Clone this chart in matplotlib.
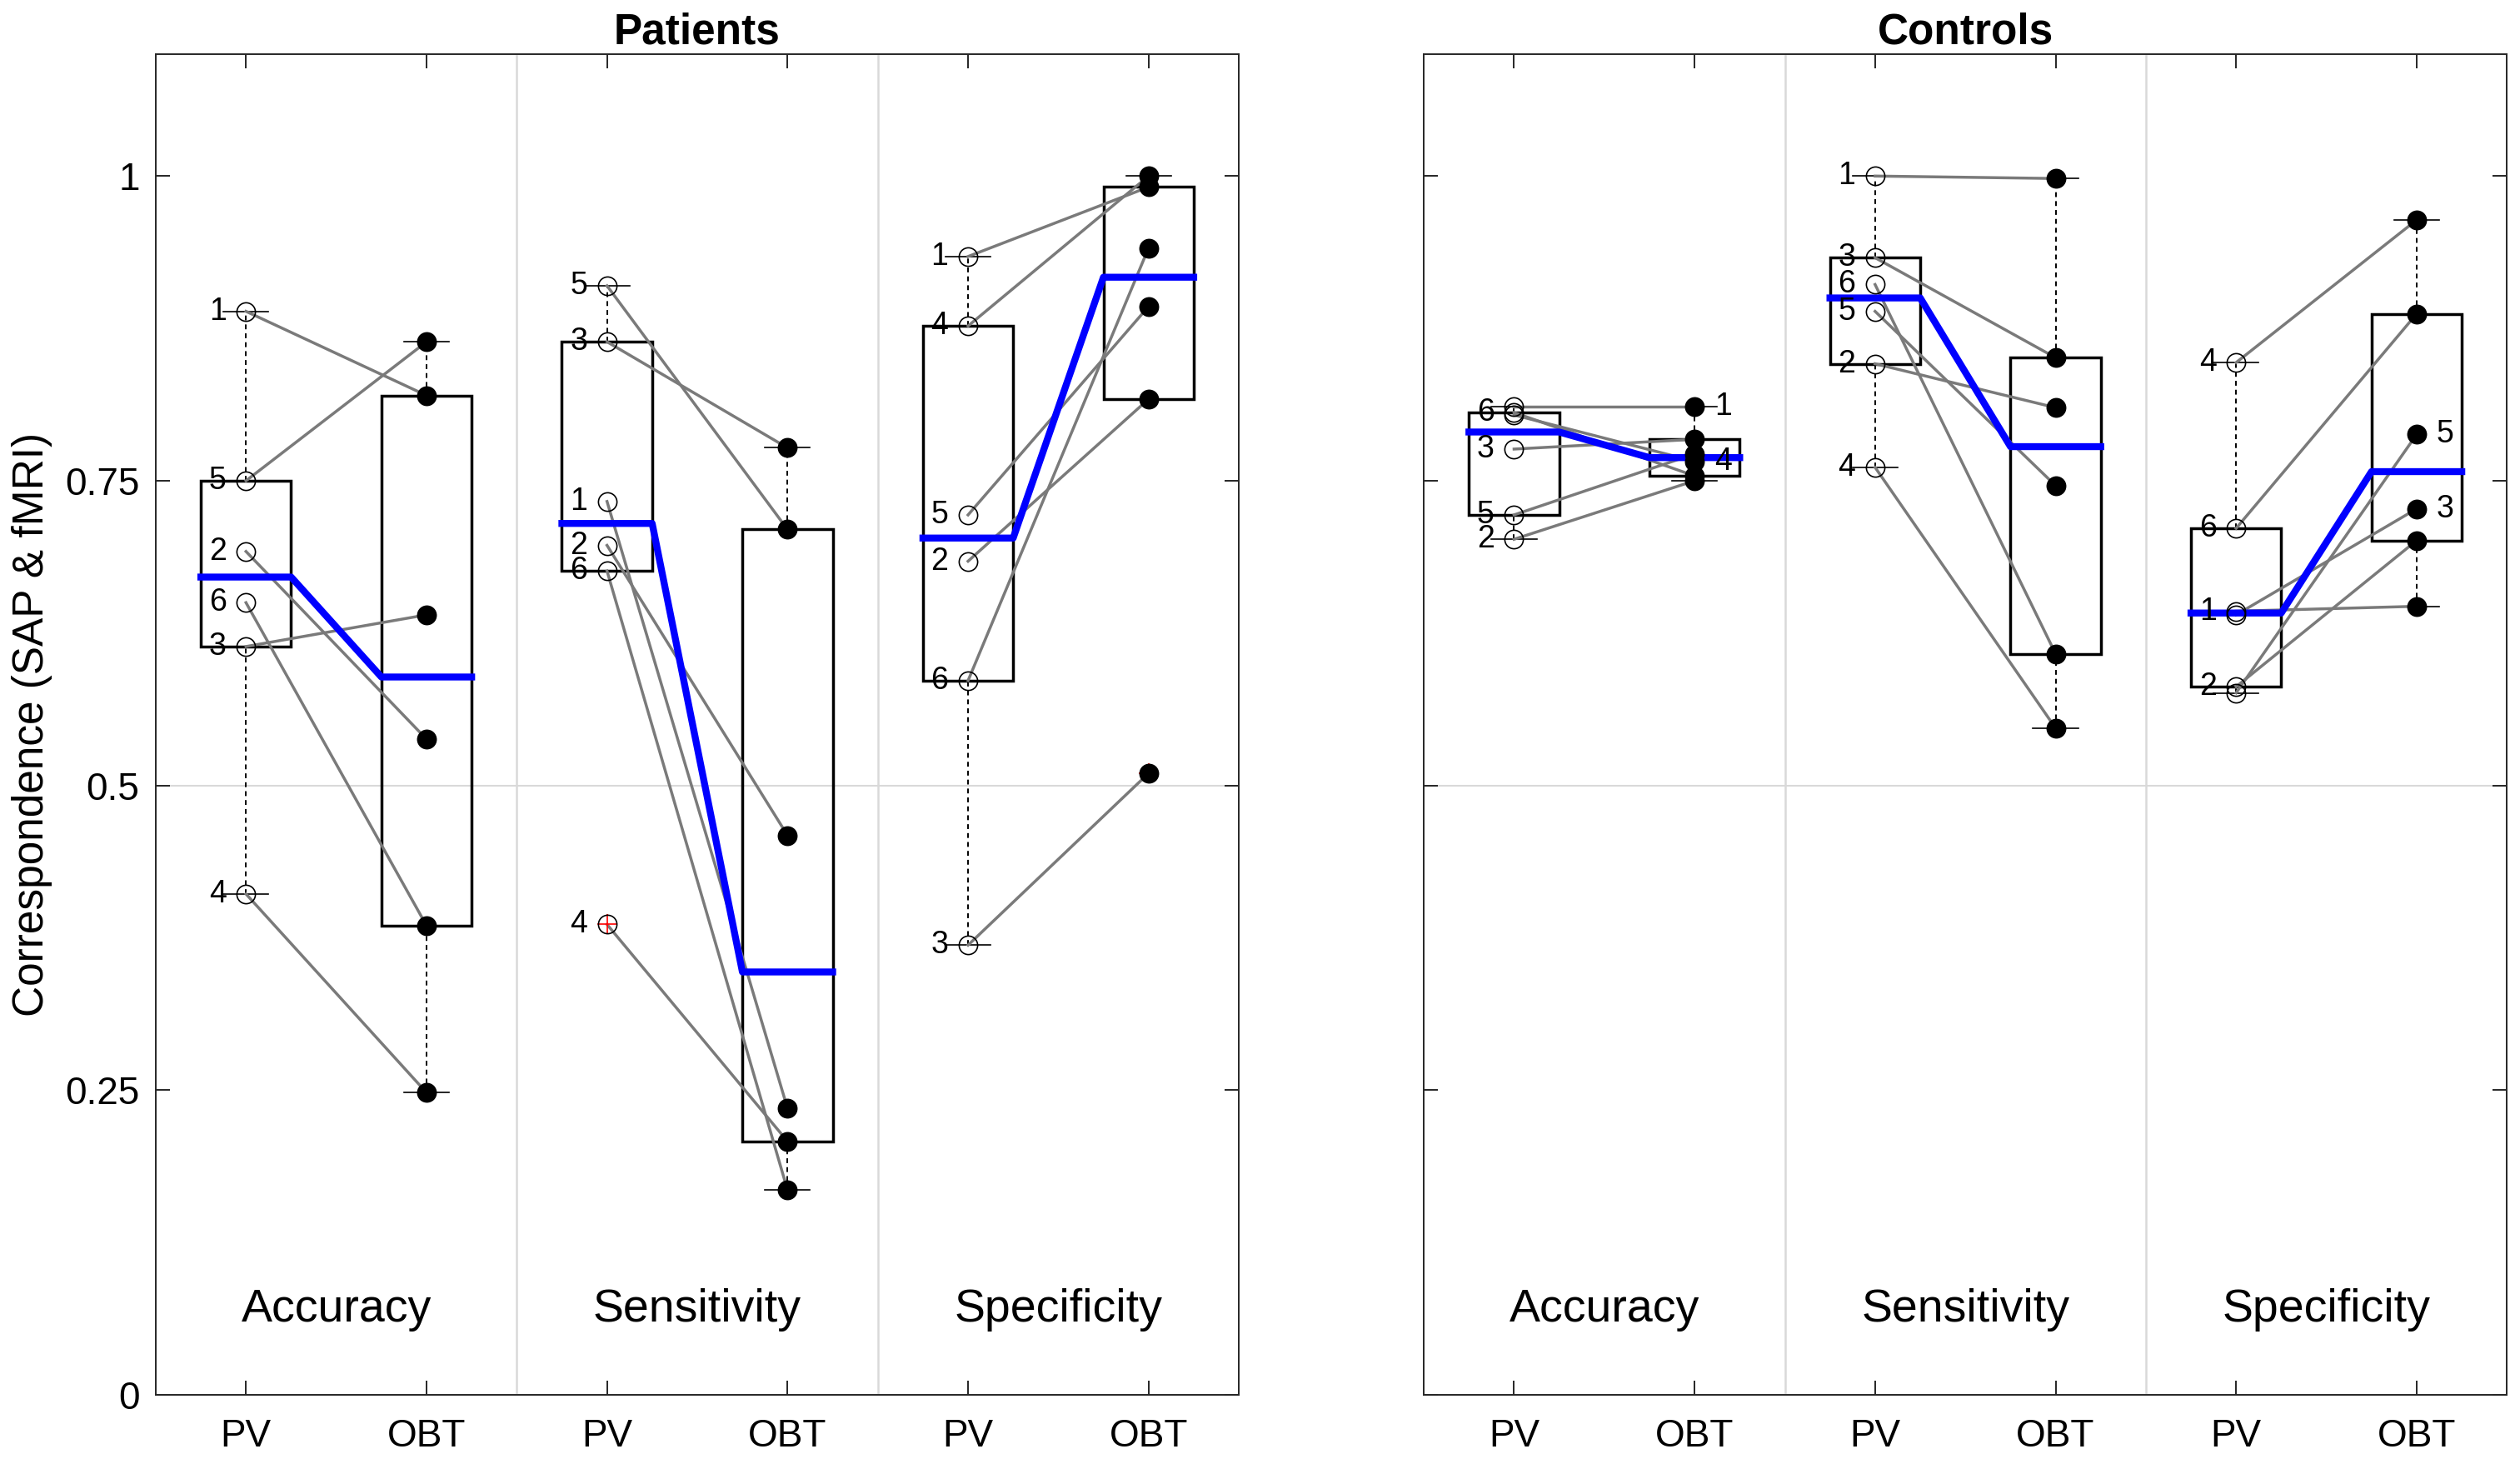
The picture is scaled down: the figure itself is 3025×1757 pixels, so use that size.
import numpy as np
import matplotlib.pyplot as plt
from matplotlib.patches import Rectangle

plt.rcParams['font.family'] = ['Liberation Sans', 'DejaVu Sans']

subjects = [1, 2, 3, 4, 5, 6]
metrics = ['Accuracy', 'Sensitivity', 'Specificity']
conditions = ['PV', 'OBT']

# values per subject 1..6
pat_acc_pv = [0.889, 0.692, 0.614, 0.411, 0.750, 0.650]
pat_acc_obt = [0.820, 0.538, 0.640, 0.248, 0.864, 0.385]
pat_sen_pv = [0.733, 0.697, 0.864, 0.386, 0.910, 0.676]
pat_sen_obt = [0.235, 0.459, 0.777, 0.208, 0.710, 0.168]
pat_spe_pv = [0.934, 0.684, 0.369, 0.877, 0.722, 0.586]
pat_spe_obt = [0.991, 0.817, 0.510, 1.000, 0.893, 0.941]

ctl_acc_pv = [0.811, 0.702, 0.776, 0.804, 0.722, 0.806]
ctl_acc_obt = [0.811, 0.750, 0.784, 0.766, 0.772, 0.754]
ctl_sen_pv = [1.000, 0.846, 0.933, 0.761, 0.889, 0.911]
ctl_sen_obt = [0.998, 0.810, 0.851, 0.547, 0.746, 0.608]
ctl_spe_pv = [0.643, 0.581, 0.640, 0.847, 0.576, 0.711]
ctl_spe_obt = [0.647, 0.701, 0.727, 0.964, 0.788, 0.887]

# subjects whose number is written next to the OBT point instead of the PV point
pat_obt_labels = [[], [], []]
ctl_obt_labels = [[1, 4], [], [3, 5]]

yticks = [0, 0.25, 0.5, 0.75, 1]
ytick_labels = ['0', '0.25', '0.5', '0.75', '1']

dark = '#262626'
gray = (0.48, 0.48, 0.48)
light = (0.85, 0.85, 0.85)


def box_stats(v):
    v = np.asarray(v, dtype=float)
    q1, med, q3 = np.percentile(v, [25, 50, 75], method='hazen')
    iqr = q3 - q1
    ok = (v >= q1 - 1.5 * iqr) & (v <= q3 + 1.5 * iqr)
    return q1, med, q3, v[ok].min(), v[ok].max(), v[~ok]


def draw_panel(ax, pv_sets, obt_sets, obt_labels, title, show_ylabels):
    ax.axhline(0.5, color=light, lw=1.5, zorder=0)
    ax.axvline(2.5, color=light, lw=1.8, zorder=0)
    ax.axvline(4.5, color=light, lw=1.8, zorder=0)

    for m in range(3):
        xs = [2 * m + 1, 2 * m + 2]
        sets = [pv_sets[m], obt_sets[m]]
        meds = []
        for x, vals in zip(xs, sets):
            q1, med, q3, lo, hi, out = box_stats(vals)
            ax.add_patch(Rectangle((x - 0.25, q1), 0.5, q3 - q1, fill=False,
                                   ec='k', lw=2.5, zorder=2))
            ax.plot([x, x], [q3, hi], color='k', lw=1.4, ls=(0, (3, 2.5)), zorder=2)
            ax.plot([x, x], [lo, q1], color='k', lw=1.4, ls=(0, (3, 2.5)), zorder=2)
            ax.plot([x - 0.125, x + 0.125], [hi, hi], color='k', lw=1.2, zorder=2)
            ax.plot([x - 0.125, x + 0.125], [lo, lo], color='k', lw=1.2, zorder=2)
            ax.plot(np.full(len(out), x), out, '+', color='r', ms=17, mew=1.2, zorder=4.5)
            meds.append(med)

        for i in range(len(subjects)):
            ax.plot(xs, [sets[0][i], sets[1][i]], color=gray, lw=2.5, zorder=3)

        ax.plot([xs[0] - 0.25, xs[0] + 0.25, xs[1] - 0.25, xs[1] + 0.25],
                [meds[0], meds[0], meds[1], meds[1]], color=(0, 0, 1), lw=6, zorder=4)

        ax.plot(np.full(6, xs[0]), sets[0], 'o', mfc='none', mec='k', ms=16,
                mew=1.2, zorder=5)
        ax.plot(np.full(6, xs[1]), sets[1], 'o', mfc='k', mec='k', ms=16,
                mew=1.2, zorder=5)

        for i, s in enumerate(subjects):
            if s in obt_labels[m]:
                ax.annotate(str(s), (xs[1], sets[1][i]), xytext=(17, 0),
                            textcoords='offset points', ha='left', va='center',
                            fontsize=27, zorder=6)
            else:
                ax.annotate(str(s), (xs[0], sets[0][i]), xytext=(-17, 0),
                            textcoords='offset points', ha='right', va='center',
                            fontsize=27, zorder=6)

        ax.text(2 * m + 1.5, 0.06, metrics[m], ha='center', va='baseline', fontsize=40)

    ax.set_xlim(0.5, 6.5)
    ax.set_ylim(0, 1.1)
    ax.set_xticks([1, 2, 3, 4, 5, 6])
    ax.set_xticklabels(conditions * 3)
    ax.set_yticks(yticks)
    if show_ylabels:
        ax.set_yticklabels(ytick_labels)
    else:
        ax.set_yticklabels([])
    ax.tick_params(direction='in', length=12, width=1.4, top=True, right=True,
                   labelsize=33, color=dark, labelcolor='k')
    ax.tick_params(axis='x', pad=20)
    ax.tick_params(axis='y', pad=14)
    for sp in ax.spines.values():
        sp.set_color(dark)
        sp.set_linewidth(1.4)
    ax.set_title(title, fontsize=37, fontweight='bold', pad=9)


fig = plt.figure(figsize=(30.25, 17.57), dpi=100)
ax1 = fig.add_axes([0.0618, 0.0472, 0.4298, 0.9158])
ax2 = fig.add_axes([0.5650, 0.0472, 0.4298, 0.9158])

draw_panel(ax1, [pat_acc_pv, pat_sen_pv, pat_spe_pv],
           [pat_acc_obt, pat_sen_obt, pat_spe_obt], pat_obt_labels, 'Patients', True)
draw_panel(ax2, [ctl_acc_pv, ctl_sen_pv, ctl_spe_pv],
           [ctl_acc_obt, ctl_sen_obt, ctl_spe_obt], ctl_obt_labels, 'Controls', False)

ax1.set_ylabel('Correspondence (SAP & fMRI)', fontsize=37)
ax1.yaxis.set_label_coords(-0.095, 0.5)

fig.savefig('out.png', dpi=100)
